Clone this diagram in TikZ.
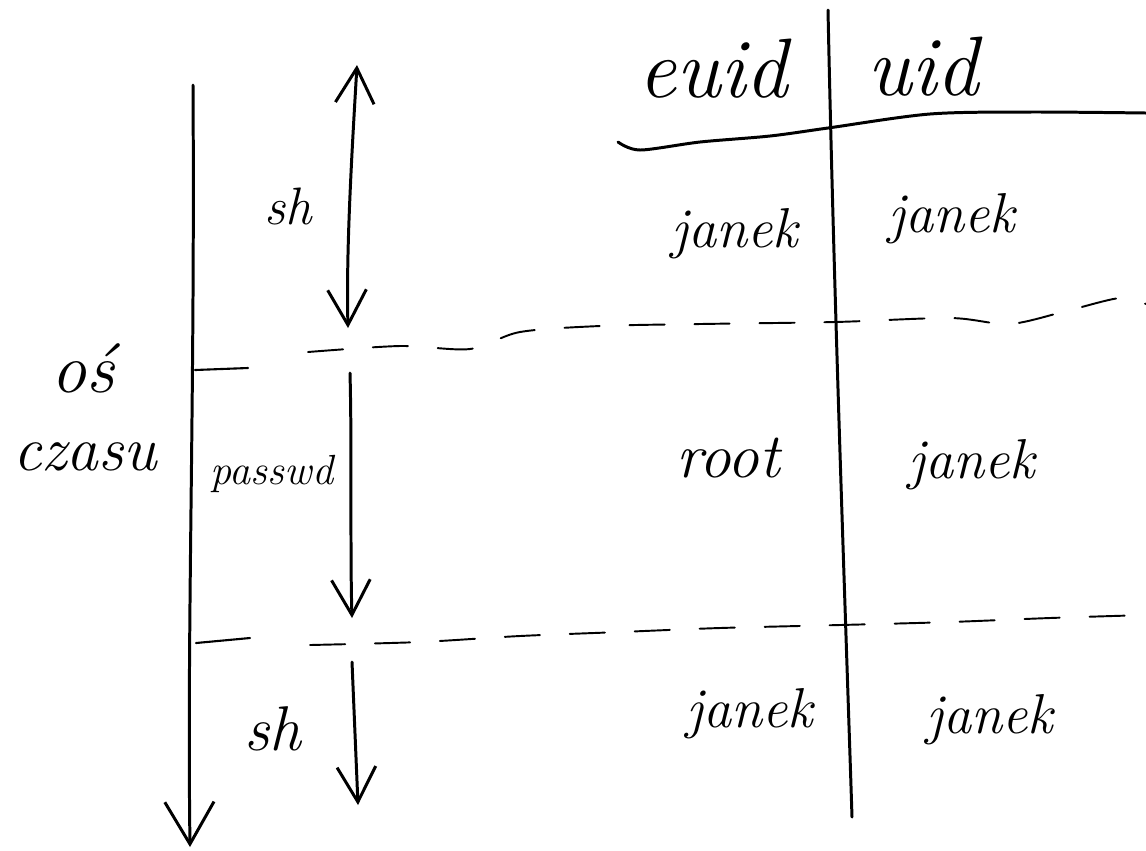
\documentclass[tikz,border=0pt]{standalone}
\usetikzlibrary{arrows.meta}
\begin{document}
\begin{tikzpicture}[x=0.02cm,y=-0.02cm,
  ink/.style={line width=1.7pt, line cap=round, line join=round},
  sep/.style={line width=1.1pt, line cap=round, dash pattern=on 20pt off 17pt},
  vtip/.tip={Straight Barb[length=20pt, width=22pt]},
  bigvtip/.tip={Straight Barb[length=24pt, width=28pt]},
  hand/.style={inner sep=0pt, anchor=base, font=\itshape\fontsize{#1}{#1}\selectfont},
  hand/.default=32]
\useasboundingbox (0,0) rectangle (1146,850);

% time axis with its two ticks
\coordinate (axTop) at (193,85);
\coordinate (axEnd) at (190,847);
\draw[ink, -bigvtip]
  (axTop) .. controls (195,400) and (187,620) .. (axEnd);
\coordinate (tickA0) at (195,370);
\coordinate (tickA1) at (248,368);
\coordinate (tickB0) at (196,643);
\coordinate (tickB1) at (250,638);
\draw[ink, line width=1.2pt] (tickA0) -- (tickA1);
\draw[ink, line width=1.2pt] (tickB0) -- (tickB1);

\node[hand=40] (os) at (83,392) {oś};
\node[hand=36] (czasu) at (85,470) {czasu};

% phase separators
\draw[sep] plot[smooth] coordinates {(308,352) (400,346) (470,349) (520,332)
  (600,326) (700,324) (835,322) (950,318) (1010,324) (1070,310) (1120,298) (1146,304)};
\draw[sep] plot[smooth] coordinates {(310,645) (420,642) (520,636) (620,632)
  (720,628) (840,625) (950,622) (1050,618) (1146,615)};

% process phases
\coordinate (shTop) at (357,65);
\coordinate (shBot) at (348,328);
\coordinate (pwTop) at (350,373);
\coordinate (pwBot) at (352,618);
\coordinate (sh2Top) at (352,662);
\coordinate (sh2Bot) at (358,805);
\draw[ink, vtip-vtip]
  (shTop) .. controls (352,150) and (346,250) .. (shBot);
\draw[ink, -vtip] (pwTop) .. controls (352,450) and (350,550) .. (pwBot);
\draw[ink, -vtip] (sh2Top) -- (sh2Bot);

\node[hand=30] (lsh) at (288,224) {sh};
\node[hand=24] (lpw) at (272,484) {passwd};
\node[hand=36] (lsh2) at (273,750) {sh};

% euid / uid table
\coordinate (colTop) at (828,10);
\coordinate (colBot) at (852,817);
\draw[ink] (colTop) .. controls (834,300) and (845,600) .. (colBot);
\draw[ink] plot[smooth] coordinates {(618,142) (640,150) (700,142) (770,136)
  (828,128) (930,114) (1030,112) (1146,113)};

\node[hand=48] (heuid) at (713,97) {euid};
\node[hand=48] (huid) at (923,95) {uid};

\node[hand] (e1) at (735,247) {janek};
\node[hand] (u1) at (952,232) {janek};
\node[hand=36] (e2) at (728,477) {root};
\node[hand] (u2) at (972,478) {janek};
\node[hand] (e3) at (750,727) {janek};
\node[hand] (u3) at (990,733) {janek};
\end{tikzpicture}
\end{document}
